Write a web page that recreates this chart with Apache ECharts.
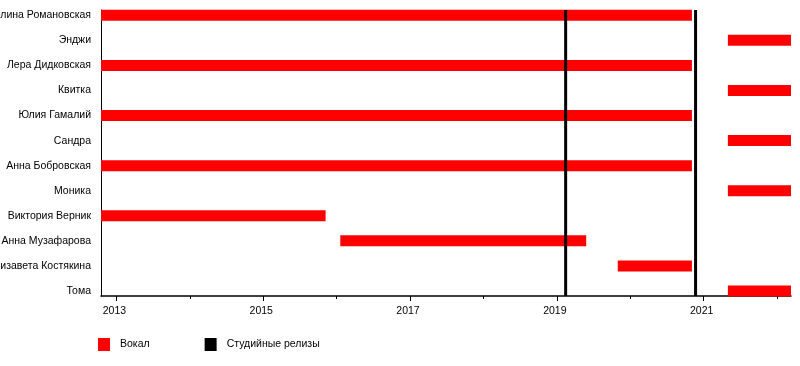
<!DOCTYPE html>
<html><head><meta charset="utf-8">
<script src="https://cdn.jsdelivr.net/npm/echarts@6/dist/echarts.min.js"></script>
<style>html,body{margin:0;padding:0;background:#fff}#c{width:800px;height:366px}</style>
</head><body><div id="c"></div>
<script>
const categories = ['Ангелина Романовская','Энджи','Лера Дидковская','Квитка','Юлия Гамалий','Сандра','Анна Бобровская','Моника','Виктория Верник','Анна Музафарова','Елизавета Костякина','Тома'];
const vocalStart = [2012.79, 2021.33, 2012.79, 2021.33, 2012.79, 2021.33, 2012.79, 2021.33, 2012.79, 2016.05, 2019.83, 2021.33];
const vocalEnd   = [2020.84, 2022.19, 2020.84, 2022.19, 2020.84, 2022.19, 2020.84, 2022.19, 2015.85, 2019.40, 2020.84, 2022.19];
const releases = [2019.12, 2020.89];
const majorTicks = [2013, 2015, 2017, 2019, 2021];
const minorTicks = [2014, 2016, 2018, 2020, 2022];
const seriesNames = ['Вокал', 'Студийные релизы'];
const xMin = 2012.79, xMax = 2022.19;

const FONT = '"Liberation Sans", Arial, sans-serif';
const FS = 10.5;
const chart = echarts.init(document.getElementById('c'), null, {renderer: 'canvas'});
const option = {
  animation: false,
  textStyle: {fontFamily: FONT},
  grid: [
    {left: 101, right: 9, top: 10, bottom: 70, containLabel: false, outerBoundsMode: 'none'},
    {left: 101, right: 9, top: 15.3, bottom: 75, containLabel: false, outerBoundsMode: 'none'}
  ],
  xAxis: [
    {gridIndex: 0, type: 'value', min: xMin, max: xMax, position: 'bottom',
     axisLine: {show: true, lineStyle: {color: '#000', width: 1.5}},
     axisTick: {show: true, length: 5, customValues: majorTicks, lineStyle: {color: '#000', width: 1}},
     axisLabel: {customValues: majorTicks, formatter: v => String(v), margin: 10, color: '#000', fontSize: FS, fontFamily: FONT, padding: [0, 4, 0, 0]},
     splitLine: {show: false}},
    {gridIndex: 1, type: 'value', min: xMin, max: xMax, position: 'bottom', offset: 5,
     axisLine: {show: false},
     axisTick: {show: true, length: 3, customValues: minorTicks, lineStyle: {color: '#000', width: 1}},
     axisLabel: {show: false},
     splitLine: {show: false}}
  ],
  yAxis: [
    {gridIndex: 0, type: 'value', min: 0, max: 1,
     axisLine: {show: true, lineStyle: {color: '#000', width: 1}},
     axisTick: {show: false}, axisLabel: {show: false}, splitLine: {show: false}},
    {gridIndex: 1, type: 'category', inverse: true, boundaryGap: false, data: categories,
     axisLine: {show: false}, axisTick: {show: false}, splitLine: {show: false},
     axisLabel: {margin: 10, color: '#000', fontSize: FS, fontFamily: FONT}}
  ],
  legend: {
    data: seriesNames, icon: 'rect', itemWidth: 12, itemHeight: 13, padding: 0,
    left: 98, top: 338, itemGap: 55, orient: 'horizontal',
    textStyle: {fontSize: FS, color: '#000', fontFamily: FONT, padding: [0, 0, 0, 5]}
  },
  series: [
    {name: seriesNames[0], type: 'custom', xAxisIndex: 1, yAxisIndex: 1, z: 2,
     itemStyle: {color: '#ff0000'},
     encode: {x: [0, 1], y: 2},
     data: categories.map((c, i) => [vocalStart[i], vocalEnd[i], i]),
     renderItem: (params, api) => {
       const s = api.coord([api.value(0), api.value(2)]);
       const e = api.coord([api.value(1), api.value(2)]);
       const h = 11;
       return {type: 'rect', shape: {x: s[0], y: s[1] - h / 2, width: e[0] - s[0], height: h},
               style: {fill: '#ff0000'}};
     }},
    {name: seriesNames[1], type: 'custom', xAxisIndex: 0, yAxisIndex: 0, z: 5,
     itemStyle: {color: '#000'},
     encode: {x: 0},
     data: releases.map(x => [x]),
     renderItem: (params, api) => {
       const a = api.coord([api.value(0), 0]);
       const b = api.coord([api.value(0), 1]);
       return {type: 'line', shape: {x1: a[0], y1: a[1], x2: b[0], y2: b[1]},
               style: {stroke: '#000', lineWidth: 3}};
     }}
  ]
};
chart.setOption(option);
</script>
</body></html>
